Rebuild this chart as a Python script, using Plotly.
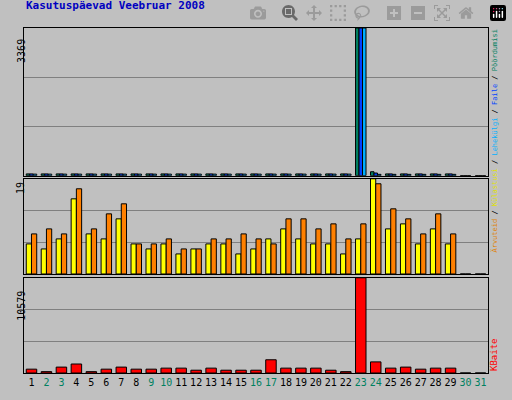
import plotly.graph_objects as go

days = list(range(1, 32))
weekend = [2, 3, 9, 10, 16, 17, 23, 24, 30, 31]
# top panel (Pöördumisi / Faile / Lehekülgi)
hits = [40]*22 + [3369] + [90, 40, 40, 40, 40, 40, 0, 0]
files = [40]*22 + [3369] + [60, 40, 40, 40, 40, 40, 0, 0]
pages = [35]*22 + [3369] + [30, 30, 30, 30, 30, 30, 0, 0]
visitors = [6,5,7,15,8,7,11,6,5,6,4,5,6,6,4,5,7,9,7,6,6,4,7,19,9,10,6,9,6,0,0]
visits = [8,9,8,17,9,12,14,6,6,7,5,5,7,7,8,7,6,11,11,9,10,7,10,18,13,11,8,12,8,0,0]
kbytes = [425,150,656,1000,150,425,656,425,425,540,540,310,540,310,310,310,1470,540,540,540,310,150,10579,1235,540,656,425,540,540,0,0]

fig = go.Figure()
line = dict(color="black", width=1)
fig.add_trace(go.Bar(x=days, y=hits, marker=dict(color="#008060", line=line), xaxis="x", yaxis="y"))
fig.add_trace(go.Bar(x=days, y=files, marker=dict(color="#0040ff", line=line), xaxis="x", yaxis="y"))
fig.add_trace(go.Bar(x=days, y=pages, marker=dict(color="#00b0ff", line=line), xaxis="x", yaxis="y"))
fig.add_trace(go.Bar(x=days, y=visitors, marker=dict(color="#ffff00", line=line), xaxis="x2", yaxis="y2"))
fig.add_trace(go.Bar(x=days, y=visits, marker=dict(color="#ff8000", line=line), xaxis="x2", yaxis="y2"))
fig.add_trace(go.Bar(x=days, y=kbytes, marker=dict(color="#ff0000", line=line), xaxis="x3", yaxis="y3"))

mono = "DejaVu Sans Mono"
ticktext = [f"<span style='color:{'#008060' if d in weekend else 'black'}'>{d}</span>" for d in days]

def yax(dom, mx):
    return dict(domain=dom, range=[0, mx], tickvals=[mx/3, 2*mx/3], showticklabels=False,
                gridcolor="#808080", gridwidth=1, showline=True, linecolor="black", mirror=True,
                zeroline=False, fixedrange=True)

def xax(anchor, show):
    return dict(anchor=anchor, domain=[0, 1], range=[0.5, 31.5], showline=True, linecolor="black",
                mirror=True, tickvals=days, ticktext=ticktext if show else None,
                showticklabels=show, ticks="", showgrid=False, tickfont=dict(family=mono, size=10, color="black"))

fig.update_layout(
    width=512, height=400, margin=dict(l=24, r=24, t=28, b=24),
    paper_bgcolor="#c0c0c0", plot_bgcolor="#c0c0c0", showlegend=False,
    barmode="group", bargap=0.3, bargroupgap=0,
    xaxis=xax("y", False), xaxis2=xax("y2", False), xaxis3=xax("y3", True),
    yaxis=yax([0.572, 1.0], 3369), yaxis2=yax([0.287, 0.563], 19), yaxis3=yax([0.0, 0.276], 10579),
    font=dict(family=mono),
)

ann = []
ann.append(dict(text="<b>Kasutuspäevad Veebruar 2008</b>", x=0, y=1.065, xanchor="left", yanchor="middle",
                xref="paper", yref="paper", showarrow=False, font=dict(size=11, color="#0000c0", family=mono)))
for t, yp in [("3369", 0.975), ("19", 0.56), ("10579", 0.245)]:
    ann.append(dict(text=t, textangle=-90, x=-0.022, y=yp, xref="paper", yref="paper", showarrow=False,
                    yanchor="top", font=dict(size=10, color="black", family=mono)))
rt = ("<span style='color:#e08000'>Ärvuteid</span> / <span style='color:#e0e000'>Külastusi</span> / "
      "<span style='color:#00b0ff'>Lehekülgi</span> / <span style='color:#0040ff'>Faile</span> / "
      "<span style='color:#008060'>Pöördumisi</span>")
ann.append(dict(text=rt, textangle=-90, x=1.027, y=1.0, yanchor="top", xref="paper", yref="paper",
                showarrow=False, font=dict(size=7, color="black", family=mono)))
ann.append(dict(text="<span style='color:#ff0000'>KBaite</span>", textangle=-90, x=1.027, y=0.0,
                yanchor="bottom", xref="paper", yref="paper", showarrow=False, font=dict(size=9, family=mono)))
fig.update_layout(annotations=ann)
fig.write_html("out.html", post_script="document.body.style.margin='0';")
